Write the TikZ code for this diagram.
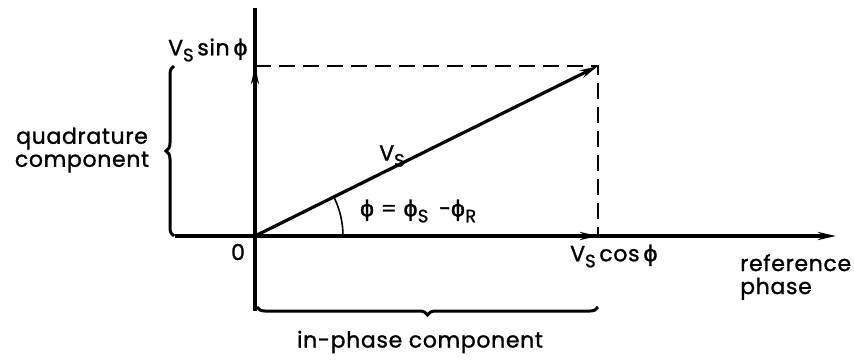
\documentclass[tikz,border=0pt]{standalone}
\usepackage{fontspec}
\setmainfont{Poppins}[FakeBold=1.2, LetterSpace=3]
\newfontfamily\grk{DejaVu Sans}[FakeBold=1.5]
\usetikzlibrary{arrows.meta, angles, decorations.pathreplacing}

\newcommand{\ph}{{\grk ϕ}}
\newcommand{\lo}[1]{\raisebox{-0.5ex}{\fontsize{18}{18}\selectfont #1}}

\begin{document}
\begin{tikzpicture}[
    x=1pt, y=-1pt,
    lbl/.style={font=\fontsize{22}{23}\selectfont, inner sep=0pt, align=center},
    axis/.style={line width=3.2pt},
    vec/.style={line width=3.2pt, -{Stealth[length=18pt, width=8pt]}},
    guide/.style={line width=1.5pt, dash pattern=on 16pt off 8pt},
    curly/.style={line width=3pt, decorate, decoration={brace, amplitude=8pt, aspect=0.5}}
]
    \useasboundingbox (0,0) rectangle (854,360);

    % points of the phasor diagram
    \coordinate (O) at (255,236);
    \coordinate (P) at (598,66);
    \coordinate (Q) at (255,66);
    \coordinate (R) at (598,236);
    \coordinate (ytop) at (255,8);
    \coordinate (ybot) at (255,311);
    \coordinate (xl) at (175,236);
    \coordinate (xr) at (836,236);

    % axes
    \draw[axis] (ytop) -- (ybot);
    \draw[axis, -{Stealth[length=18pt, width=8pt]}] (xl) -- (xr);

    % components and the phasor
    \draw[vec] (O) -- (Q);
    \draw[vec] (O) -- (R);
    \draw[vec] (O) -- (P);
    \draw[guide] (Q) -- (P) -- (R);

    % angle
    \pic[draw, line width=1.6pt, angle radius=88pt] {angle = R--O--P};

    % braces
    \coordinate (qb) at (174,236);
    \coordinate (qt) at (174,66);
    \coordinate (ir) at (598,307);
    \coordinate (il) at (257,307);
    \draw[curly] (qb) -- (qt);
    \draw[curly] (ir) -- (il);

    % labels
    \node[lbl] (sinl) at (208,50) {V\lo{S}\,sin\,\ph};
    \node[lbl] (quad) at (82,150) {quadrature\\component};
    \node[lbl] (vsl) at (392,156) {V\lo{S}};
    \node[lbl] (phil) at (418,211) {\ph\ = \ph\lo{S}\, −\ph\lo{R}};
    \node[lbl] (zero) at (238,252) {0};
    \node[lbl] (cosl) at (614,256) {V\lo{S}\,cos\,\ph};
    \node[lbl, align=left, anchor=west] (refl) at (740,277) {reference\\phase};
    \node[lbl] (inph) at (420,342) {in-phase component};
\end{tikzpicture}
\end{document}
